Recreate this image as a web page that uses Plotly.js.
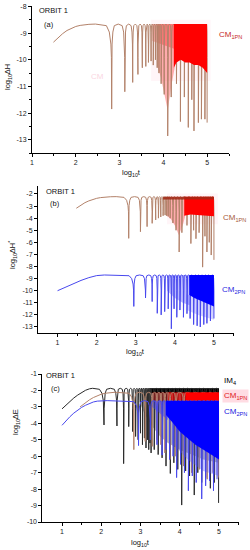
<!DOCTYPE html>
<html>
<head>
<meta charset="utf-8">
<script src="https://cdn.plot.ly/plotly-3.0.1.min.js"></script>
<style>html,body{margin:0;padding:0;background:#fff;}#chart{width:250px;height:550px;}</style>
</head>
<body>
<div id="chart"></div>
<script>
// ---------------- DATA (log10 units) ----------------
// Panel (a): CM1PN, log10 ΔH
const riseA_x = [1.49, 1.6, 1.7, 1.8, 1.9, 2.0, 2.1, 2.2, 2.3, 2.45];
const riseA_y = [-9.34, -9.16, -9.02, -8.9, -8.81, -8.75, -8.71, -8.68, -8.67, -8.66];
const topA = -8.66;
const dipA_x = [2.82, 3.12, 3.30, 3.42, 3.52, 3.60, 3.66, 3.72, 3.77, 3.82, 3.86, 3.90, 3.95, 4.02, 4.10, 4.18, 4.30, 4.39, 4.48, 4.57, 4.65, 4.70, 4.80, 4.87, 4.95, 5.0];
const dipA_y = [-11.85, -11.2, -10.85, -10.55, -10.3, -10.25, -10.1, -10.05, -10.2, -10.0, -10.3, -10.5, -10.9, -11.3, -12.86, -11.4, -10.9, -12.32, -11.4, -12.54, -11.5, -12.67, -12.36, -12.23, -12.23, -12.36];
const hazeA_x = [3.72, 5.08];           const hazeA_hi = [-8.5, -8.5];   const hazeA_lo = [-10.8, -10.8];
const pinkA_x = [3.86, 3.95, 4.02, 4.10, 4.18, 4.26]; const pinkA_lo = [-10.2, -10.7, -11.2, -11.9, -11.0, -10.3];
const pinkA2_x = [3.75, 4.26];          const pinkA2_lo = [-9.3, -9.6];
const redA_x = [4.24, 4.3, 4.4, 4.5, 4.6, 4.7, 4.8, 4.9, 5.0];
const redA_lo = [-10.3, -10.1, -10.0, -10.1, -10.1, -10.2, -10.2, -10.3, -10.5];

// Panel (b): CM1PN and CM2PN, log10 ΔH*
const riseB1_x = [1.48, 1.6, 1.7, 1.8, 1.9, 2.0, 2.1, 2.2, 2.35, 2.5];
const riseB1_y = [-3.18, -2.9, -2.72, -2.57, -2.45, -2.36, -2.3, -2.26, -2.23, -2.22];
const topB1 = -2.22;
const dipB1_x = [2.82, 3.12, 3.29, 3.42, 3.51, 3.58, 3.64, 3.70, 3.75, 3.79, 3.83, 3.88, 3.95, 4.03, 4.11, 4.18, 4.31, 4.41, 4.48, 4.54, 4.62, 4.71, 4.77, 4.82, 4.88, 4.93, 5.0];
const dipB1_y = [-5.67, -5.12, -4.7, -4.43, -4.15, -4.0, -3.9, -3.8, -3.75, -3.8, -3.85, -4.0, -4.4, -5.0, -6.8, -5.2, -4.6, -6.1, -5.0, -5.7, -5.2, -8.05, -5.5, -6.8, -6.0, -7.05, -7.45];
const hazeB_x = [3.8, 5.1];             const hazeB_hi = [-1.95, -1.95]; const hazeB_lo = [-4.5, -4.5];
const pinkB_x = [3.8, 3.9, 4.0, 4.1, 4.2, 4.26]; const pinkB_lo = [-3.8, -4.1, -4.6, -5.4, -4.6, -3.9];
const redB_x = [4.24, 4.4, 4.6, 4.8, 5.0];       const redB_lo = [-3.8, -3.7, -3.75, -3.8, -3.85];
const darkB_x = [3.7, 5.0];             const darkB_lo = [-2.45, -2.45];

const riseB2_x = [1.0, 1.2, 1.4, 1.6, 1.8, 1.9, 2.0, 2.2];
const riseB2_y = [-10.0, -9.7, -9.42, -9.15, -8.92, -8.82, -8.75, -8.7];
const topB2 = -8.7;
const dipB2_x = [2.95, 3.25, 3.42, 3.55, 3.65, 3.74, 3.83, 3.91, 3.98, 4.05, 4.13, 4.22, 4.31, 4.39, 4.48, 4.57, 4.65, 4.74, 4.82, 4.91, 5.0];
const dipB2_y = [-11.3, -10.6, -10.9, -11.87, -12.0, -11.73, -11.5, -13.15, -11.5, -12.2, -11.6, -12.2, -11.9, -12.3, -12.8, -12.9, -13.0, -12.8, -12.7, -12.5, -12.3];
const lblueB_x = [3.8, 4.0, 4.2, 4.38];  const lblueB_lo = [-10.0, -10.6, -11.0, -11.2];
const blueB_x = [4.37, 4.5, 4.7, 4.85, 5.0]; const blueB_lo = [-10.35, -10.6, -10.9, -11.1, -11.3];
const lavB_x = [4.3, 4.6, 5.0];          const lavB_hi = [-10.3, -10.7, -11.2]; const lavB_lo = [-11.6, -12.0, -12.4];

// Panel (c): IM4, CM1PN, CM2PN, log10 ΔE
const riseC0_x = [1.0, 1.1, 1.2, 1.3, 1.4, 1.5, 1.6, 1.7, 1.78];
const riseC0_y = [-3.12, -2.88, -2.66, -2.46, -2.28, -2.12, -1.99, -1.9, -1.87];
const topC0 = -1.87;
const dipC0_x = [2.07, 2.40, 2.57, 2.70, 2.80, 2.875, 2.94, 3.0, 3.05, 3.10, 3.14, 3.18, 3.21, 3.24, 3.27, 3.35, 3.45, 3.55, 3.65, 3.76, 3.85, 3.95, 4.05, 4.15, 4.25, 4.37, 4.46, 4.56, 4.66, 4.78, 4.88, 4.99];
const dipC0_y = [-4.1, -4.16, -6.45, -4.2, -4.5, -4.8, -5.0, -4.6, -5.3, -4.9, -5.5, -5.0, -5.6, -5.2, -5.8, -5.6, -5.9, -6.1, -6.6, -7.05, -6.4, -6.8, -8.97, -6.9, -7.2, -8.36, -7.0, -7.6, -7.3, -7.95, -7.6, -8.84];
const greyC_x = [2.95, 3.1, 3.3, 3.5, 3.7, 4.0, 4.3, 4.6, 5.0];
const greyC_lo = [-2.6, -3.4, -4.2, -4.8, -5.2, -5.6, -5.9, -6.2, -6.4];
const blackC_x = [3.25, 5.0];            const blackC_lo = [-2.15, -2.15];

const riseC1_x = [1.46, 1.6, 1.7, 1.8, 1.9, 2.0, 2.1, 2.2, 2.35];
const riseC1_y = [-3.0, -2.74, -2.57, -2.43, -2.32, -2.23, -2.17, -2.13, -2.11];
const topC1 = -2.11;
const dipC1_x = [2.83, 3.12, 3.30, 3.42, 3.52, 3.62, 3.75, 3.9, 4.1, 4.3, 4.5, 4.7, 4.85, 4.98];
const dipC1_y = [-5.6, -5.1, -5.4, -5.0, -5.3, -5.8, -6.2, -6.0, -6.6, -7.0, -6.8, -7.4, -7.0, -7.3];
const dredC_x = [3.3, 3.8];   const midredC_x = [3.7, 4.2];   const redC_x = [4.15, 5.0];
const redC_lo = [-2.62, -2.62];

const riseC2_x = [1.0, 1.1, 1.2, 1.3, 1.4, 1.5, 1.6, 1.7, 1.8, 1.9, 2.0, 2.15];
const riseC2_y = [-4.12, -3.85, -3.6, -3.38, -3.2, -3.03, -2.9, -2.78, -2.7, -2.65, -2.63, -2.62];
const topC2 = -2.62;
const dipC2_x = [2.95, 3.25, 3.42, 3.55, 3.65, 3.74, 3.83, 3.92, 4.02, 4.12, 4.22, 4.32, 4.42, 4.56, 4.66, 4.76, 4.86, 4.95];
const dipC2_y = [-5.35, -5.0, -5.3, -5.93, -5.6, -6.2, -6.0, -7.3, -6.5, -7.0, -8.1, -7.2, -7.6, -8.6, -7.8, -7.5, -8.1, -7.4];
const lblueC_x = [3.3, 3.5, 3.7];        const lblueC_lo = [-3.0, -3.4, -3.8];
const blueC_x = [3.65, 3.8, 4.0, 4.2, 4.4, 4.6, 4.8, 5.0];
const blueC_lo = [-3.5, -3.9, -4.5, -4.9, -5.3, -5.6, -5.9, -6.2];
const lavC_x = [3.8, 4.2, 4.6, 5.0];     const lavC_hi = [-3.9, -4.9, -5.6, -6.2]; const lavC_lo = [-5.2, -6.2, -6.9, -7.2];

// axis ticks
const xTicks = [1, 2, 3, 4, 5];
const xMinor = [1.5, 2.5, 3.5, 4.5, 5.5];
const yTicksA = [-13, -12, -11, -10, -9, -8];
const yMinorA = [-13.5, -12.5, -11.5, -10.5, -9.5, -8.5];
const yTicksB = [-13, -12, -11, -10, -9, -8, -7, -6, -5, -4, -3, -2];
const yTicksC = [-10, -9, -8, -7, -6, -5, -4, -3, -2, -1];

// ---------------- drawing helpers ----------------
const FONT = 'Liberation Sans, Arial, sans-serif';
const F = [0.4, 0.18, 0.06, 0.02], D = [0.06, 0.3, 0.75, 1.25];

function dipCurve(rx, ry, top, dx, dy) {
  const X = rx.slice(), Y = ry.slice();
  for (let i = 0; i < dx.length; i++) {
    const depth = top - dy[i];
    const hl = i === 0 ? Math.min(0.3, dx[0] - rx[rx.length - 1]) : (dx[i] - dx[i - 1]) / 2;
    for (let k = 0; k < F.length; k++) { X.push(dx[i] - F[k] * hl); Y.push(top - Math.min(D[k], 0.8 * depth)); }
    X.push(dx[i]); Y.push(dy[i]);
    if (i < dx.length - 1) {
      const hr = (dx[i + 1] - dx[i]) / 2;
      for (let k = F.length - 1; k >= 0; k--) { X.push(dx[i] + F[k] * hr); Y.push(top - Math.min(D[k], 0.8 * depth)); }
      X.push(dx[i] + hr); Y.push(top);
    }
  }
  return {X, Y};
}
function line(rx, ry, top, dx, dy, color, xa, ya, w) {
  const c = dipCurve(rx, ry, top, dx, dy);
  return {type: 'scatter', mode: 'lines', x: c.X, y: c.Y, xaxis: xa, yaxis: ya,
          line: {color: color, width: w || 1}, hoverinfo: 'skip'};
}
function band(x, hi, lo, color, xa, ya) {
  const H = Array.isArray(hi) ? hi : x.map(() => hi);
  const px = x.concat(x.slice().reverse());
  const py = H.concat(lo.slice().reverse());
  return {type: 'scatter', mode: 'lines', x: px, y: py, xaxis: xa, yaxis: ya, fill: 'toself',
          fillcolor: color, line: {width: 0, color: color}, hoverinfo: 'skip'};
}

const TAN = '#b3826a', BLUE = '#4848ee', BLK = '#2a2a2a';
const traces = [
  // panel a
  band(hazeA_x, hazeA_hi, hazeA_lo, 'rgba(255,120,160,0.07)', 'x', 'y'),
  band(pinkA2_x, topA, pinkA2_lo, 'rgba(255,0,0,0.3)', 'x', 'y'),
  band(pinkA_x, topA, pinkA_lo, 'rgba(255,0,0,0.3)', 'x', 'y'),
  line(riseA_x, riseA_y, topA, dipA_x, dipA_y, TAN, 'x', 'y'),
  band(redA_x, topA, redA_lo, '#ff0000', 'x', 'y'),
  // panel b
  band(hazeB_x, hazeB_hi, hazeB_lo, 'rgba(255,120,160,0.07)', 'x2', 'y2'),
  band(pinkB_x, topB1, pinkB_lo, 'rgba(255,0,0,0.3)', 'x2', 'y2'),
  line(riseB1_x, riseB1_y, topB1, dipB1_x, dipB1_y, TAN, 'x2', 'y2'),
  band(redB_x, topB1, redB_lo, '#ff0000', 'x2', 'y2'),
  band(darkB_x, topB1, darkB_lo, 'rgba(160,40,20,0.85)', 'x2', 'y2'),
  band(lavB_x, lavB_hi, lavB_lo, 'rgba(110,110,255,0.3)', 'x2', 'y2'),
  band(lblueB_x, topB2, lblueB_lo, 'rgba(60,60,255,0.35)', 'x2', 'y2'),
  line(riseB2_x, riseB2_y, topB2, dipB2_x, dipB2_y, BLUE, 'x2', 'y2'),
  band(blueB_x, topB2, blueB_lo, '#0000ff', 'x2', 'y2'),
  // panel c
  band(greyC_x, topC0, greyC_lo, 'rgba(40,40,40,0.35)', 'x3', 'y3'),
  band(blackC_x, topC0, blackC_lo, '#000000', 'x3', 'y3'),
  line(riseC0_x, riseC0_y, topC0, dipC0_x, dipC0_y, BLK, 'x3', 'y3'),
  band(dredC_x, topC1, redC_lo, 'rgba(150,0,0,0.55)', 'x3', 'y3'),
  band(midredC_x, topC1, redC_lo, 'rgba(220,0,0,0.75)', 'x3', 'y3'),
  line(riseC1_x, riseC1_y, topC1, dipC1_x, dipC1_y, TAN, 'x3', 'y3'),
  band(redC_x, topC1, redC_lo, '#ff0000', 'x3', 'y3'),
  band(lavC_x, lavC_hi, lavC_lo, 'rgba(90,90,255,0.35)', 'x3', 'y3'),
  band(lblueC_x, topC2, lblueC_lo, 'rgba(50,50,255,0.4)', 'x3', 'y3'),
  line(riseC2_x, riseC2_y, topC2, dipC2_x, dipC2_y, BLUE, 'x3', 'y3'),
  band(blueC_x, topC2, blueC_lo, '#0000ff', 'x3', 'y3')
];

function axX(domain, range, anchor) {
  return {domain, range, anchor, showline: true, linecolor: 'black', linewidth: 1, mirror: false,
    ticks: 'outside', ticklen: 3, tickwidth: 1, tickcolor: 'black', tickmode: 'array',
    tickvals: xTicks, ticktext: xTicks.map(String), tickfont: {family: FONT, size: 7, color: '#222'},
    showgrid: false, zeroline: false, fixedrange: true,
    minor: {tickmode: 'array', tickvals: xMinor, ticks: 'outside', ticklen: 2, tickcolor: 'black', showgrid: false}};
}
function axY(domain, range, anchor, tv, minorVals) {
  const a = {domain, range, anchor, showline: true, linecolor: 'black', linewidth: 1, mirror: false,
    ticks: 'outside', ticklen: 3, tickwidth: 1, tickcolor: 'black', tickmode: 'array',
    tickvals: tv, ticktext: tv.map(String), tickfont: {family: FONT, size: 7, color: '#222'},
    showgrid: false, zeroline: false, fixedrange: true};
  if (minorVals) a.minor = {tickmode: 'array', tickvals: minorVals, ticks: 'outside', ticklen: 2, tickcolor: 'black', showgrid: false};
  return a;
}
function P(px, py) { return {x: px / 250, y: 1 - py / 550}; }
function ann(px, py, text, opts) {
  const p = P(px, py);
  return Object.assign({xref: 'paper', yref: 'paper', x: p.x, y: p.y, text: text, showarrow: false,
    xanchor: 'left', yanchor: 'middle', font: {family: FONT, size: 7.5, color: '#111'}}, opts || {});
}
const annotations = [
  ann(37, 10, 'ORBIT 1'), ann(42, 24, '(a)'),
  ann(8, 77, 'log<sub>10</sub>ΔH', {textangle: -90, xanchor: 'center'}),
  ann(131, 173, 'log<sub>10</sub>t', {xanchor: 'center'}),
  ann(217, 35, 'CM<sub>1PN</sub>', {font: {family: FONT, size: 8, color: '#c62828'}}),
  ann(89, 76, 'CM', {font: {family: FONT, size: 8, color: '#fad6e2'}}),

  ann(44, 191, 'ORBIT 1'), ann(48, 204, '(b)'),
  ann(12, 255, 'log<sub>10</sub>ΔH<sup>*</sup>', {textangle: -90, xanchor: 'center'}),
  ann(135, 352, 'log<sub>10</sub>t', {xanchor: 'center'}),
  ann(221, 218, 'CM<sub>1PN</sub>', {font: {family: FONT, size: 8, color: '#a65a3a'}}),
  ann(220, 290, 'CM<sub>2PN</sub>', {font: {family: FONT, size: 8, color: '#2a2ae0'}}),

  ann(44, 375, 'ORBIT 1'), ann(49, 388, '(c)'),
  ann(16, 422, 'log<sub>10</sub>ΔE', {textangle: -90, xanchor: 'center'}),
  ann(140, 543, 'log<sub>10</sub>t', {xanchor: 'center'}),
  ann(222, 381, 'IM<sub>4</sub>', {font: {family: FONT, size: 8, color: '#000'}}),
  ann(222, 396, 'CM<sub>1PN</sub>', {font: {family: FONT, size: 8, color: '#e02020'}, bgcolor: 'rgba(255,205,215,0.7)'}),
  ann(222, 412, 'CM<sub>2PN</sub>', {font: {family: FONT, size: 8, color: '#2020e0'}})
];

const layout = {
  width: 250, height: 550, margin: {l: 0, r: 0, t: 0, b: 0}, showlegend: false,
  paper_bgcolor: '#ffffff', plot_bgcolor: 'rgba(0,0,0,0)',
  xaxis: axX([0.128, 0.916], [1, 5.5], 'y'),
  yaxis: axY([0.7218, 0.9882], [-13.5, -8], 'x', yTicksA, yMinorA),
  xaxis2: axX([0.152, 0.934], [0.5, 5.5], 'y2'),
  yaxis2: axY([0.3945, 0.6627], [-13.5, -1.3], 'x2', yTicksB),
  xaxis3: axX([0.1696, 0.9544], [0.5, 5.5], 'y3'),
  yaxis3: axY([0.0509, 0.32], [-10, -1], 'x3', yTicksC),
  annotations: annotations
};
Plotly.newPlot('chart', traces, layout, {staticPlot: true, displayModeBar: false});
</script>
</body>
</html>
